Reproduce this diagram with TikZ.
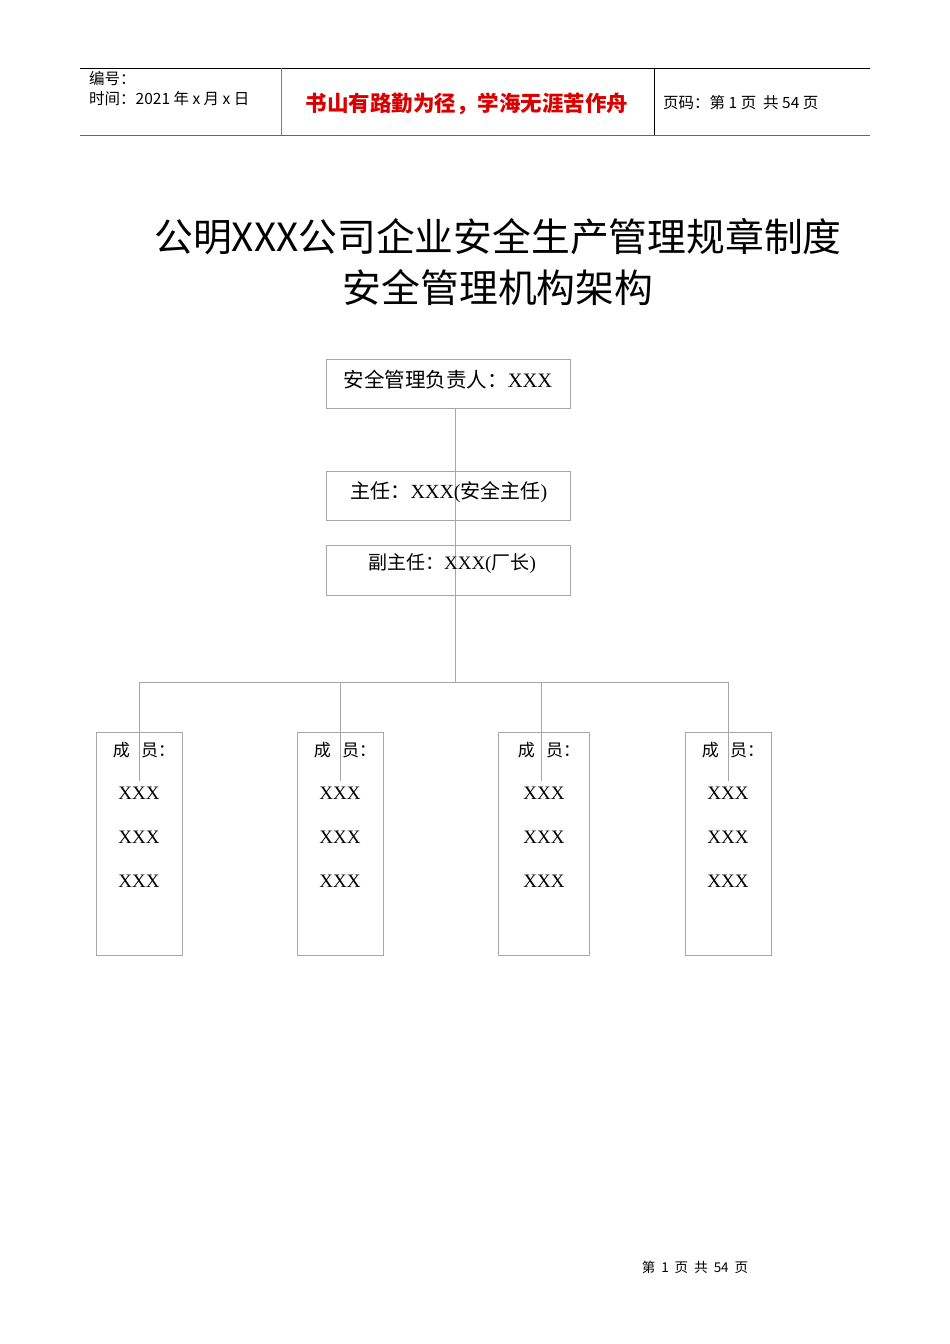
\documentclass[tikz,border=0pt]{standalone}
\usepackage{fontspec}
\setmainfont{Liberation Serif}
\newfontfamily\cjk{Noto Sans CJK SC}
\begin{document}
\begin{tikzpicture}[x=1pt,y=-1pt,
  box/.style={draw=black!35,line width=0.8pt,inner sep=0pt},
  ln/.style={draw=black!35,line width=0.8pt},
  txt/.style={inner sep=0pt,anchor=center}]
\useasboundingbox (0,0) rectangle (950,1344);
% header
\draw[line width=0.8pt] (80,68) -- (870,68);
\draw[line width=1.6pt,black!60] (80,135.5) -- (870,135.5);
\draw[black!50,line width=0.8pt] (281,68) -- (281,135);
\draw[line width=0.8pt] (654,68) -- (654,135);
\node[txt,anchor=west,font=\cjk\fontsize{15.5}{18}\selectfont] (h1) at (89,79) {编号：};
\node[txt,anchor=west,font=\cjk\fontsize{15.5}{18}\selectfont] (h2) at (89,99) {时间：2021 年 x 月 x 日};
\node[txt,font=\cjk\bfseries\fontsize{21.5}{25}\selectfont,text=red!85!black] (h3) at (467,104) {书山有路勤为径，学海无涯苦作舟};
\node[txt,anchor=west,font=\cjk\fontsize{15.5}{18}\selectfont] (h4) at (663,103) {页码：第 1 页\ \ 共 54 页};
% title
\node[txt,font=\cjk\fontsize{38.8}{46}\selectfont] (t1) at (498,237) {公明XXX公司企业安全生产管理规章制度};
\node[txt,font=\cjk\fontsize{38.8}{46}\selectfont] (t2) at (498,288) {安全管理机构架构};
% connectors
\coordinate (top) at (455,408);
\coordinate (mid) at (455,682);
\draw[ln] (top) -- (mid);
\draw[ln] (139,682) -- (728,682);
\foreach \x/\n in {139/a,340/b,541/c,728/d}{\draw[ln] (\x,682) -- (\x,781);}
% boxes
\node[box,minimum width=244pt,minimum height=49pt] (b1) at (448,383.5) {};
\node[txt,font=\cjk\fontsize{20.5}{24}\selectfont] at (448,380) {安全管理负责人：\fontspec{Liberation Serif}XXX};
\node[box,minimum width=244pt,minimum height=49pt] (b2) at (448,495.5) {};
\node[txt,font=\cjk\fontsize{20}{24}\selectfont] at (449,492) {主任：{\fontspec{Liberation Serif}XXX(}安全主任{\fontspec{Liberation Serif})}};
\node[box,minimum width=244pt,minimum height=50pt] (b3) at (448,570) {};
\node[txt,font=\cjk\fontsize{19}{24}\selectfont] at (452,564) {副主任：{\fontspec{Liberation Serif}XXX(}厂长{\fontspec{Liberation Serif})}};
\foreach \l/\r/\c in {96/182/139,297/383/340,498/589/544,685/771/728}{
  \draw[box] (\l,732) rectangle (\r,955);
  \node[txt,font=\cjk\fontsize{17}{20}\selectfont] at (\c+5,750) {成\ \ \ 员：};
  \foreach \y in {793,837,881}{\node[txt,font=\fontsize{19}{22}\selectfont] at (\c,\y) {XXX};}
}
% footer
\node[txt,font=\cjk\fontsize{13.5}{16}\selectfont] (f) at (695,1267) {第\hspace{6pt}1\hspace{6pt}页\hspace{6pt}共\hspace{6pt}54\hspace{6pt}页};
\end{tikzpicture}
\end{document}
